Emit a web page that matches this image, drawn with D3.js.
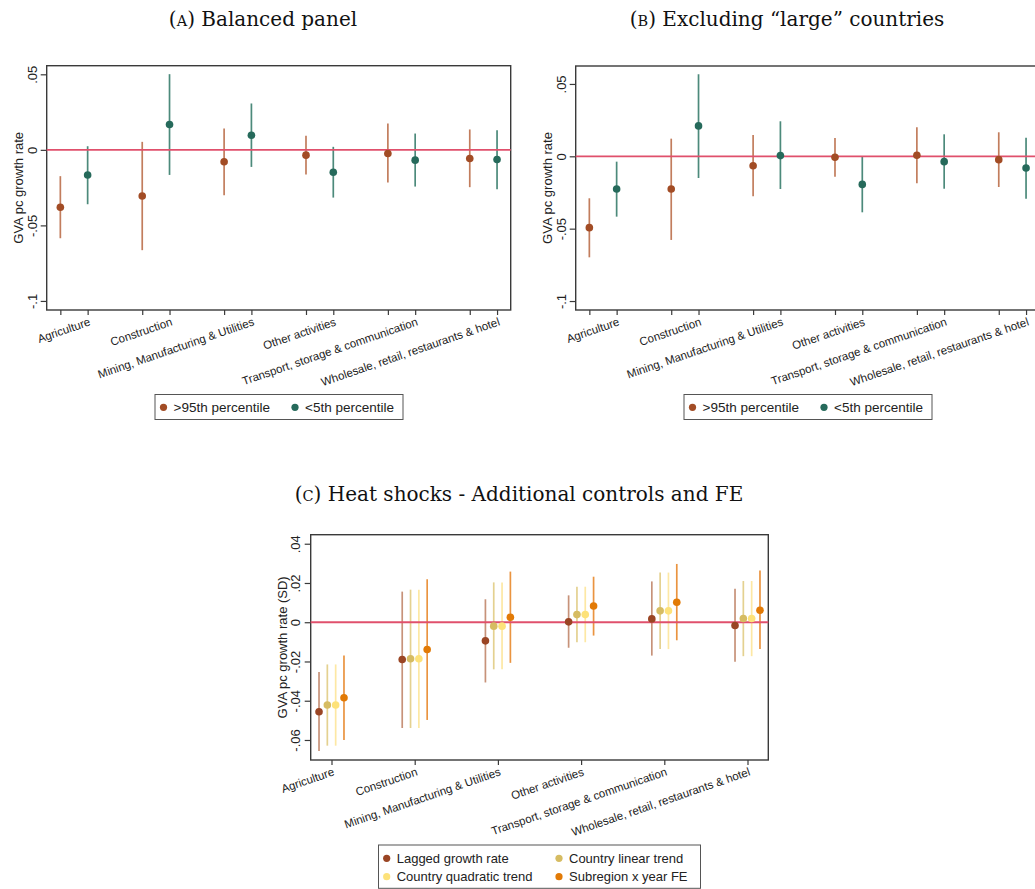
<!DOCTYPE html>
<html>
<head>
<meta charset="utf-8">
<script src="https://cdn.jsdelivr.net/npm/d3@7"></script>
<style>
  html, body { margin: 0; padding: 0; background: #fff; }
  svg { display: block; }
  .ax text { font-family: "Liberation Sans", Arial, sans-serif; fill: #222; }
</style>
</head>
<body>
<svg id="chart" width="1035" height="889"></svg>
<script>
// ---------- DATA ----------
const categories = ["Agriculture", "Construction", "Mining, Manufacturing & Utilities",
  "Other activities", "Transport, storage & communication", "Wholesale, retail, restaurants & hotel"];

// Panel A: Balanced panel
const aHotEst  = [-0.038, -0.0305, -0.0079, -0.0035, -0.0024, -0.0057];
const aHotLo   = [-0.0585, -0.0664, -0.030, -0.0163, -0.0216, -0.0247];
const aHotHi   = [-0.0174, 0.0053, 0.0141, 0.0093, 0.0174, 0.0135];
const aColdEst = [-0.0166, 0.0168, 0.0097, -0.0148, -0.0068, -0.0064];
const aColdLo  = [-0.036, -0.0166, -0.0113, -0.0316, -0.0243, -0.026];
const aColdHi  = [0.0024, 0.0501, 0.0307, 0.002, 0.0108, 0.013];

// Panel B: Excluding "large" countries
const bHotEst  = [-0.0493, -0.0226, -0.0065, -0.0007, 0.0007, -0.0023];
const bHotLo   = [-0.0698, -0.0578, -0.0276, -0.0141, -0.0187, -0.0212];
const bHotHi   = [-0.029, 0.0122, 0.0147, 0.0127, 0.020, 0.0166];
const bColdEst = [-0.0226, 0.021, 0.0005, -0.0194, -0.0037, -0.0081];
const bColdLo  = [-0.0417, -0.015, -0.0226, -0.0387, -0.0224, -0.0293];
const bColdHi  = [-0.0037, 0.0567, 0.0242, 0.0, 0.0152, 0.0129];

// Panel C: Heat shocks - additional controls and FE
const cLaggedEst = [-0.0456, -0.019, -0.0095, 0.0002, 0.0017, -0.0017];
const cLaggedLo  = [-0.0656, -0.0539, -0.0307, -0.013, -0.017, -0.0202];
const cLaggedHi  = [-0.0253, 0.0156, 0.0117, 0.0137, 0.0208, 0.0171];
const cLinearEst = [-0.0422, -0.0186, -0.002, 0.0039, 0.0058, 0.0019];
const cLinearLo  = [-0.0629, -0.0539, -0.024, -0.0102, -0.0137, -0.0173];
const cLinearHi  = [-0.0215, 0.0166, 0.0203, 0.0181, 0.0253, 0.021];
const cQuadEst   = [-0.0422, -0.0186, -0.002, 0.0039, 0.0058, 0.0019];
const cQuadLo    = [-0.0629, -0.0539, -0.024, -0.0102, -0.0137, -0.0173];
const cQuadHi    = [-0.0215, 0.0166, 0.0203, 0.0181, 0.0253, 0.021];
const cSubEst    = [-0.0385, -0.0139, 0.0025, 0.0083, 0.0102, 0.0061];
const cSubLo     = [-0.060, -0.0498, -0.0207, -0.0068, -0.0092, -0.0136];
const cSubHi     = [-0.0169, 0.0219, 0.0258, 0.0232, 0.0297, 0.0263];

const abTicks = [-0.1, -0.05, 0, 0.05];
const abTickLabels = ["-.1", "-.05", "0", ".05"];
const cTicks = [-0.06, -0.04, -0.02, 0, 0.02, 0.04];
const cTickLabels = ["-.06", "-.04", "-.02", "0", ".02", ".04"];

const abSeriesNames = [">95th percentile", "<5th percentile"];
const cSeriesNames = ["Lagged growth rate", "Country linear trend", "Country quadratic trend", "Subregion x year FE"];

// ---------- STYLE ----------
const hotDot = "#a24c25", hotLine = "#c27d5d";
const coldDot = "#266a5b", coldLine = "#4c8a7b";
const cDots  = ["#9a4524", "#d6bc62", "#fde27a", "#e27a06"];
const cLines = ["#c79279", "#e4d190", "#fde8a4", "#ea9440"];
const zeroColor = "#e0506c";
const frameColor = "#3a3a3a";
const sans = '"Liberation Sans", Arial, sans-serif';
const xLabelAngle = -19;

const svg = d3.select("#chart");
svg.append("rect").attr("width", 1035).attr("height", 889).attr("fill", "#fff");

function title(x, y, letter, rest) {
  const t = svg.append("text").attr("x", x).attr("y", y).attr("text-anchor", "middle")
    .attr("font-family", '"DejaVu Serif", serif').attr("font-size", 20).attr("fill", "#111");
  t.append("tspan").text("(");
  t.append("tspan").attr("font-size", 14.5).text(letter);
  t.append("tspan").text(") " + rest);
}

function yAxis(g, y, ticks, labels, xPos, labelOff) {
  const ax = d3.axisLeft(y).tickValues(ticks).tickSize(6).tickFormat((d, i) => labels[i]);
  const gg = g.append("g").attr("class", "ax").attr("transform", `translate(${xPos},0)`).call(ax);
  gg.select(".domain").remove();
  gg.selectAll(".tick line").attr("stroke", frameColor).attr("stroke-width", 1.2);
  gg.selectAll(".tick text").attr("x", null).attr("dy", null).attr("font-size", 13)
    .attr("font-family", sans).attr("text-anchor", "middle")
    .attr("transform", `translate(${labelOff},0) rotate(-90)`);
}

function xAxis(g, x, tickVals, labelFor, yPos) {
  const ax = d3.axisBottom(x).tickValues(tickVals).tickSize(5).tickFormat(labelFor);
  const gg = g.append("g").attr("class", "ax").attr("transform", `translate(0,${yPos})`).call(ax);
  gg.select(".domain").remove();
  gg.selectAll(".tick line").attr("stroke", frameColor).attr("stroke-width", 1.2);
  gg.selectAll(".tick text").attr("y", 0).attr("dy", 0).attr("font-size", 11.5)
    .attr("font-family", sans).attr("text-anchor", "end")
    .attr("transform", `translate(3,15) rotate(${xLabelAngle})`);
}

function drawSeries(g, x, y, xs, est, lo, hi, dotC, lineC, r) {
  g.append("g").selectAll("line").data(est).join("line")
    .attr("x1", (d, i) => x(xs[i])).attr("x2", (d, i) => x(xs[i]))
    .attr("y1", (d, i) => y(lo[i])).attr("y2", (d, i) => y(hi[i]))
    .attr("stroke", lineC).attr("stroke-width", 1.7);
  return () => g.append("g").selectAll("circle").data(est).join("circle")
    .attr("cx", (d, i) => x(xs[i])).attr("cy", d => y(d)).attr("r", r).attr("fill", dotC);
}

function legendItem(g, x, y, color, label, fs) {
  g.append("circle").attr("cx", x).attr("cy", y).attr("r", 3.6).attr("fill", color);
  g.append("text").attr("x", x + 10).attr("y", y).attr("dy", "0.35em")
    .attr("font-family", sans).attr("font-size", fs).attr("fill", "#222").text(label);
}

// ---------- PANEL A & B ----------
function abPanel(cfg) {
  const g = svg.append("g");
  const x = d3.scaleLinear().domain([0.5, 17.5]).range([cfg.left, cfg.left + 464]);
  const y = d3.scaleLinear().domain(cfg.ydom).range([310, cfg.top]);
  const hotX = categories.map((c, i) => 3 * i + 1);
  const coldX = categories.map((c, i) => 3 * i + 2);

  g.append("rect").attr("x", x.range()[0]).attr("y", cfg.top)
    .attr("width", 464).attr("height", 310 - cfg.top)
    .attr("fill", "#fff").attr("stroke", frameColor).attr("stroke-width", 1.4);

  yAxis(g, y, abTicks, abTickLabels, cfg.left, -10);
  const allX = hotX.concat(coldX).sort((a, b) => a - b);
  xAxis(g, x, allX, d => { const i = coldX.indexOf(d); return i >= 0 ? categories[i] : ""; }, 310);

  const p1 = drawSeries(g, x, y, hotX, cfg.hotEst, cfg.hotLo, cfg.hotHi, hotDot, hotLine, 3.8);
  const p2 = drawSeries(g, x, y, coldX, cfg.coldEst, cfg.coldLo, cfg.coldHi, coldDot, coldLine, 3.8);
  g.append("line").attr("x1", x.range()[0]).attr("x2", x.range()[1])
    .attr("y1", y(0)).attr("y2", y(0)).attr("stroke", zeroColor).attr("stroke-width", 1.8);
  p1(); p2();

  g.append("text").attr("transform", `translate(${cfg.left - 23.5},${(310 + cfg.top) / 2}) rotate(-90)`)
    .attr("text-anchor", "middle").attr("font-family", sans).attr("font-size", 13).attr("fill", "#222")
    .text("GVA pc growth rate");

  const lg = svg.append("g");
  const lx = cfg.legX;
  lg.append("rect").attr("x", lx).attr("y", 394.5).attr("width", 248).attr("height", 25)
    .attr("fill", "#fff").attr("stroke", "#555").attr("stroke-width", 1);
  legendItem(lg, lx + 8.5, 407.3, hotDot, abSeriesNames[0], 13.5);
  legendItem(lg, lx + 140, 407.3, coldDot, abSeriesNames[1], 13.5);
}

title(263, 26, "A", "Balanced panel");
title(787, 26, "B", "Excluding \u201clarge\u201d countries");
title(519, 501, "C", "Heat shocks - Additional controls and FE");

abPanel({ left: 46.7, top: 65.7, ydom: [-0.106, 0.0557],
  hotEst: aHotEst, hotLo: aHotLo, hotHi: aHotHi,
  coldEst: aColdEst, coldLo: aColdLo, coldHi: aColdHi, legX: 155 });
abPanel({ left: 575.7, top: 66, ydom: [-0.1062, 0.0624],
  hotEst: bHotEst, hotLo: bHotLo, hotHi: bHotHi,
  coldEst: bColdEst, coldLo: bColdLo, coldHi: bColdHi, legX: 684 });

// ---------- PANEL C ----------
(function () {
  const g = svg.append("g");
  const L = 310.7, R = 768.3, T = 534.7, B = 760;
  const x = d3.scaleLinear().domain([0.75, 6.25]).range([L, R]);
  const y = d3.scaleLinear().domain([-0.0702, 0.0446]).range([B, T]);
  const catX = categories.map((c, i) => i + 1);

  g.append("rect").attr("x", L).attr("y", T).attr("width", R - L).attr("height", B - T)
    .attr("fill", "#fff").attr("stroke", frameColor).attr("stroke-width", 1.4);
  yAxis(g, y, cTicks, cTickLabels, L, -10.5);
  xAxis(g, x, catX, (d, i) => categories[i], B);

  const series = [
    [cLaggedEst, cLaggedLo, cLaggedHi],
    [cLinearEst, cLinearLo, cLinearHi],
    [cQuadEst, cQuadLo, cQuadHi],
    [cSubEst, cSubLo, cSubHi]
  ];
  const offsets = [-0.15, -0.05, 0.05, 0.15];
  const pts = series.map((s, k) => drawSeries(g, x, y, catX.map(v => v + offsets[k]),
    s[0], s[1], s[2], cDots[k], cLines[k], 3.8));
  g.append("line").attr("x1", L).attr("x2", R).attr("y1", y(0)).attr("y2", y(0))
    .attr("stroke", zeroColor).attr("stroke-width", 1.8);
  pts.forEach(p => p());

  g.append("text").attr("transform", `translate(${L - 24},${(T + B) / 2}) rotate(-90)`)
    .attr("text-anchor", "middle").attr("font-family", sans).attr("font-size", 13).attr("fill", "#222")
    .text("GVA pc growth rate (SD)");

  const lg = svg.append("g");
  lg.append("rect").attr("x", 378.5).attr("y", 845).attr("width", 322).attr("height", 43.3)
    .attr("fill", "#fff").attr("stroke", "#555").attr("stroke-width", 1);
  legendItem(lg, 386.7, 858.3, cDots[0], cSeriesNames[0], 13);
  legendItem(lg, 559, 858.3, cDots[1], cSeriesNames[1], 13);
  legendItem(lg, 386.7, 876.7, cDots[2], cSeriesNames[2], 13);
  legendItem(lg, 559, 876.7, cDots[3], cSeriesNames[3], 13);
})();
</script>
</body>
</html>
